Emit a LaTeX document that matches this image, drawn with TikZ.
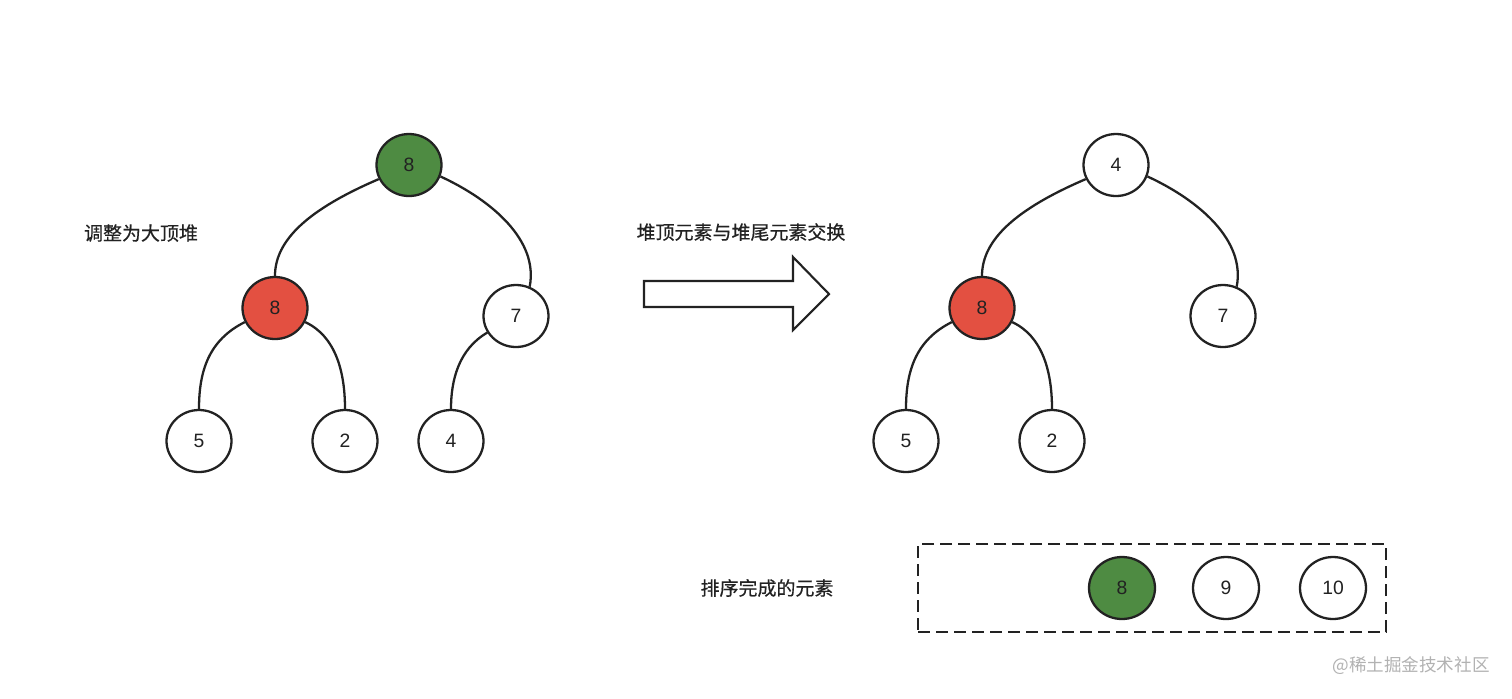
\documentclass[tikz,border=0pt]{standalone}
\usepackage{fontspec}
\setmainfont{Liberation Sans}
\newfontfamily\cjk[FakeBold=0.5]{Noto Sans CJK SC}
\newfontfamily\cjklight{Noto Sans CJK SC}
\usetikzlibrary{shapes.geometric, positioning}
\definecolor{topgreen}{HTML}{4E8B42}
\definecolor{hotred}{HTML}{E35041}
\definecolor{ink}{HTML}{222222}
\begin{document}
\begin{tikzpicture}[x=0.02cm, y=-0.02cm,
  key/.style={ellipse, draw=ink, line width=1.3pt, fill=white,
              minimum width=1.3cm, minimum height=1.24cm, inner sep=0pt,
              font=\fontsize{11}{13}\selectfont, text=ink},
  link/.style={draw=ink, line width=1.3pt},
  note/.style={font=\fontsize{10.8}{12}\cjk, text=ink}
]
% Canvas
\fill[white] (0,0) rectangle (1512,698);
\useasboundingbox (0,0) rectangle (1512,698);

% Left heap — after adjusting to a max heap
\node[key, fill=topgreen] (la) at (409,165) {8};
\node[key, fill=hotred]   (lb) at (275,308) {8};
\node[key]                (lc) at (516,316) {7};
\node[key]                (ld) at (199,441) {5};
\node[key]                (le) at (345,441) {2};
\node[key]                (lf) at (451,441) {4};

\draw[link] (la.205) .. controls +(-70,30) and +(0,-36) .. (lb.north);
\draw[link] (la.-20) .. controls +(52,24) and +(9,-46) .. (lc.65);
\draw[link] (lb.205) .. controls +(-36,18) and +(0,-38) .. (ld.north);
\draw[link] (lb.-25) .. controls +(30,14) and +(0,-38) .. (le.north);
\draw[link] (lc.210) .. controls +(-29,17) and +(0,-28) .. (lf.north);

\node[note] (ltxt) at (141,233) {调整为大顶堆};

% Swap arrow
\node[note] (swap) at (741,232) {堆顶元素与堆尾元素交换};
\draw[link, line width=1.2pt, fill=white, line join=miter]
  (644,281) -- (793,281) -- (793,257) -- (829,294) -- (793,330)
  -- (793,307) -- (644,307) -- cycle;

% Right heap — after the swap
\node[key]                (ra) at (1116,165) {4};
\node[key, fill=hotred]   (rb) at (982,308)  {8};
\node[key]                (rc) at (1223,316) {7};
\node[key]                (rd) at (906,441)  {5};
\node[key]                (re) at (1052,441) {2};

\draw[link] (ra.205) .. controls +(-70,30) and +(0,-36) .. (rb.north);
\draw[link] (ra.-20) .. controls +(52,24) and +(9,-46) .. (rc.65);
\draw[link] (rb.205) .. controls +(-36,18) and +(0,-38) .. (rd.north);
\draw[link] (rb.-25) .. controls +(30,14) and +(0,-38) .. (re.north);

% Sorted elements
\node[note] (stxt) at (767,588) {排序完成的元素};
\node[draw=ink, line width=1.3pt, dash pattern=on 0.24cm off 0.12cm,
      minimum width=9.36cm, minimum height=1.76cm] (done) at (1152,588) {};
\node[key, fill=topgreen, minimum width=1.32cm] (s8)  at (1122,588) {8};
\node[key, minimum width=1.32cm]                (s9)  at (1226,588) {9};
\node[key, minimum width=1.32cm]                (s10) at (1333,588) {10};

% Watermark
\node[font=\fontsize{10}{12}\cjklight, text=black!30] (mark) at (1411,666) {@稀土掘金技术社区};
\end{tikzpicture}
\end{document}
